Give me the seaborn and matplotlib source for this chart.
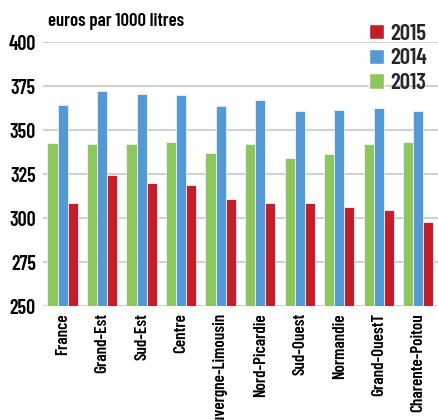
import matplotlib
matplotlib.use("Agg")
import matplotlib.pyplot as plt
from matplotlib.patches import Patch
import pandas as pd
import seaborn as sns

regions = ["France", "Grand-Est", "Sud-Est", "Centre", "Auvergne-Limousin",
           "Nord-Picardie", "Sud-Ouest", "Normandie", "Grand-OuestT", "Charente-Poitou"]
v2013 = [342.8, 341.9, 342.0, 343.0, 336.8, 342.0, 334.1, 336.6, 342.0, 343.0]
v2014 = [364.2, 372.0, 370.7, 369.9, 363.5, 367.3, 361.0, 361.2, 362.3, 360.6]
v2015 = [308.7, 324.4, 320.1, 318.8, 311.0, 308.7, 308.7, 306.5, 304.8, 297.8]
years = ["2013", "2014", "2015"]
colors = {"2013": "#8DC65E", "2014": "#5499D3", "2015": "#C21F2B"}

df = pd.DataFrame({
    "region": regions * 3,
    "year": ["2013"] * 10 + ["2014"] * 10 + ["2015"] * 10,
    "value": v2013 + v2014 + v2015,
})

sns.set_theme(style="white")
plt.rcParams["font.family"] = ["Barlow Condensed", "DejaVu Sans"]
plt.rcParams["font.weight"] = 600

fig = plt.figure(figsize=(4.38, 4.2), dpi=100)
ax = fig.add_axes([0.098, 0.271, 0.902, 0.629])

sns.barplot(data=df, x="region", y="value", hue="year", hue_order=years,
            palette=colors, saturation=1, width=0.77, edgecolor="#eef3f8",
            linewidth=0.6, ax=ax, legend=False, zorder=3)

ax.set_ylim(250, 400)
ax.set_xlim(-0.5, 9.5)
ax.set_yticks([250, 275, 300, 325, 350, 375, 400])
ax.yaxis.grid(True, color="#d0d0d0", linewidth=1.5, zorder=0)
ax.set_axisbelow(True)
for s in ax.spines.values():
    s.set_visible(False)
ax.set_xlabel("")
ax.set_ylabel("")
ax.tick_params(axis="y", length=0, labelsize=14.5, pad=5, labelcolor="black")
ax.tick_params(axis="x", length=0, labelsize=12.3, rotation=90, pad=5, labelcolor="black")

ax.text(0.012, 1.045, "euros par 1000 litres", transform=ax.transAxes,
        fontsize=13.5, color="black", ha="left", va="bottom")

handles = [Patch(facecolor=colors[y], label=y) for y in ["2015", "2014", "2013"]]
leg = fig.legend(handles=handles, loc="upper right", bbox_to_anchor=(0.995, 0.965),
                 frameon=False, fontsize=16.5, handlelength=0.65, handleheight=0.65,
                 handletextpad=0.25, labelspacing=0.2, borderaxespad=0)

fig.savefig("out.png", dpi=100)
